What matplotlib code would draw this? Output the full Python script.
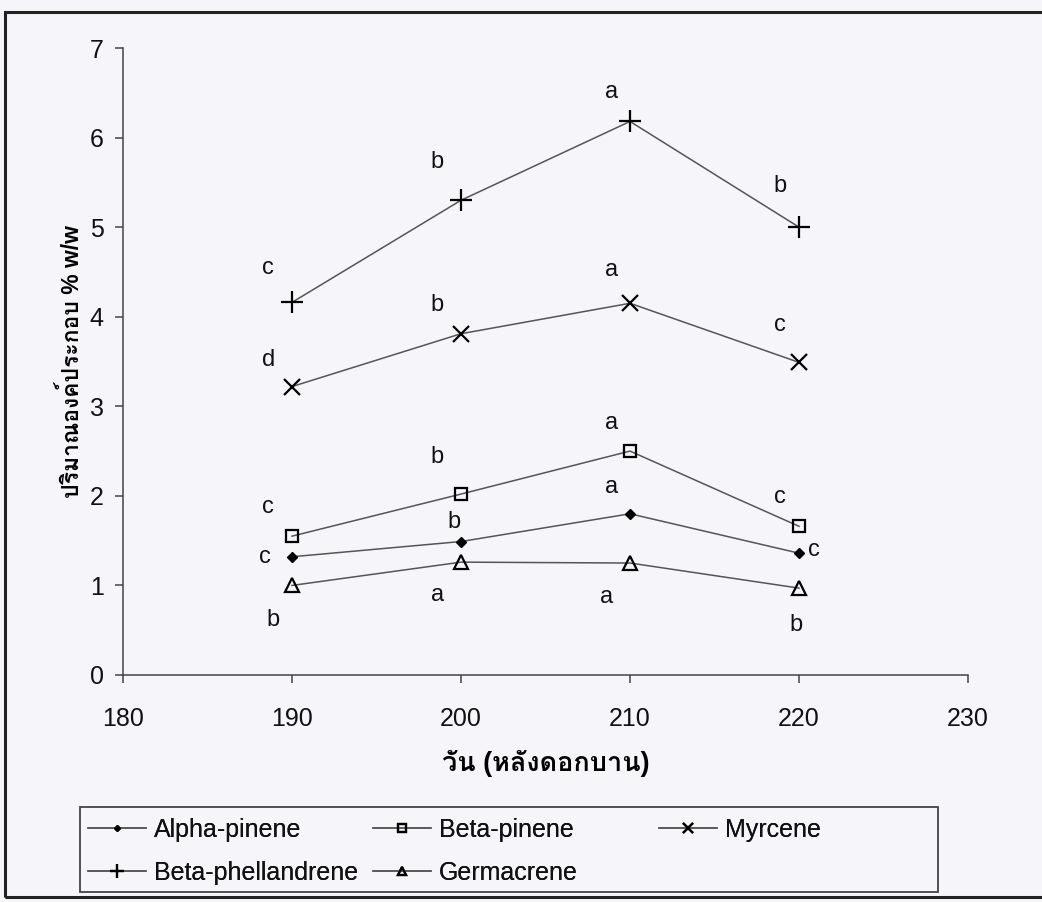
import matplotlib
matplotlib.use("Agg")
import matplotlib.pyplot as plt
from matplotlib import font_manager
from matplotlib.ft2font import FT2Font
from matplotlib.patches import Rectangle

# ---------------- data ----------------
days = [190, 200, 210, 220]
alpha_pinene = [1.32, 1.49, 1.80, 1.36]
beta_pinene = [1.55, 2.02, 2.50, 1.66]
myrcene = [3.22, 3.81, 4.15, 3.49]
beta_phellandrene = [4.16, 5.30, 6.18, 5.00]
germacrene = [1.00, 1.26, 1.25, 0.97]

letters_alpha = ["c", "b", "a", "c"]
letters_beta = ["c", "b", "a", "c"]
letters_myrcene = ["d", "b", "a", "c"]
letters_phell = ["c", "b", "a", "b"]
letters_germ = ["b", "a", "a", "b"]

series_names = ["Alpha-pinene", "Beta-pinene", "Myrcene", "Beta-phellandrene", "Germacrene"]
x_ticks = [180, 190, 200, 210, 220, 230]
y_ticks = [0, 1, 2, 3, 4, 5, 6, 7]
xlabel = "วัน (หลังดอกบาน)"
ylabel = "ปริมาณองค์ประกอบ % w/w"

# ---------------- fonts ----------------
base_font = "Liberation Sans"
thai_font = None
for fe in font_manager.fontManager.ttflist:
    try:
        cm = FT2Font(fe.fname).get_charmap()
        if 0x0E27 in cm and 0x0E2B in cm:
            thai_font = fe.name
            break
    except Exception:
        pass
label_family = [base_font] + ([thai_font] if thai_font else []) + ["DejaVu Sans"]
plt.rcParams["font.family"] = [base_font, "DejaVu Sans"]
plt.rcParams["text.color"] = "#111111"

bg = "#f6f5fa"
W, H = 1042, 902
fig = plt.figure(figsize=(W / 100, H / 100), dpi=100, facecolor=bg)
ax = fig.add_axes([123 / W, 1 - 675 / H, (968 - 123) / W, (675 - 48) / H])
ax.set_facecolor(bg)

line_color = "#555555"
styles = {
    "Alpha-pinene": dict(marker="D", ms=5, mfc="black", mec="black"),
    "Beta-pinene": dict(marker="s", ms=9, mfc="none", mec="black", mew=1.6),
    "Myrcene": dict(marker="x", ms=11, mec="black", mew=1.6),
    "Beta-phellandrene": dict(marker="+", ms=16, mec="black", mew=1.6),
    "Germacrene": dict(marker="^", ms=10, mfc="none", mec="black", mew=1.6),
}
data = {
    "Alpha-pinene": alpha_pinene,
    "Beta-pinene": beta_pinene,
    "Myrcene": myrcene,
    "Beta-phellandrene": beta_phellandrene,
    "Germacrene": germacrene,
}
handles = {}
for name in series_names:
    (h,) = ax.plot(days, data[name], color=line_color, lw=1.1, label=name, **styles[name])
    handles[name] = h

# significance letters (offsets in data units relative to each point)
fs = 17
def put(letters, vals, offsets):
    for d, v, l, (dx, dy) in zip(days, vals, letters, offsets):
        ax.text(d + dx, v + dy, l, fontsize=fs, ha="center", va="center", color="#111111")

put(letters_phell, beta_phellandrene, [(-1.4, 0.38), (-1.4, 0.43), (-1.1, 0.33), (-1.1, 0.46)])
put(letters_myrcene, myrcene, [(-1.4, 0.30), (-1.4, 0.32), (-1.1, 0.37), (-1.1, 0.42)])
put(letters_beta, beta_pinene, [(-1.4, 0.33), (-1.4, 0.41), (-1.1, 0.31), (-1.1, 0.33)])
put(letters_alpha, alpha_pinene, [(-1.6, 0.0), (-0.4, 0.22), (-1.1, 0.30), (0.9, 0.04)])
put(letters_germ, germacrene, [(-1.1, -0.39), (-1.4, -0.37), (-1.4, -0.38), (-0.2, -0.41)])

ax.set_xlim(180, 230)
ax.set_ylim(0, 7)
ax.set_xticks(x_ticks)
ax.set_yticks(y_ticks)
for s in ["top", "right"]:
    ax.spines[s].set_visible(False)
for s in ["left", "bottom"]:
    ax.spines[s].set_color("#444444")
    ax.spines[s].set_linewidth(1.1)
ax.tick_params(axis="both", direction="out", length=6, width=1.1, color="#444444",
               labelsize=18, labelcolor="#111111")
ax.tick_params(axis="y", pad=8)
ax.tick_params(axis="x", pad=17)

ax.set_xlabel(xlabel, fontsize=19.5, fontweight="bold", family=label_family, labelpad=14)
ax.set_ylabel(ylabel, fontsize=16.5, fontweight="bold", family=label_family, labelpad=4)

# legend: three columns placed individually, frame drawn separately
leg_fs = 18
columns = [
    (["Alpha-pinene", "Beta-phellandrene"], 88),
    (["Beta-pinene", "Germacrene"], 373),
    (["Myrcene"], 659),
]
for names, x0 in columns:
    lg = fig.legend([handles[n] for n in names], names, loc="upper left",
                    bbox_to_anchor=(x0 / W, 1 - 818 / H), fontsize=leg_fs, frameon=False,
                    handlelength=2.3, handletextpad=0.35, borderaxespad=0, borderpad=0,
                    labelspacing=0.75, markerscale=0.6)
    fig.add_artist(lg)

fig.patches.append(Rectangle((80 / W, 1 - 892 / H), (938 - 80) / W, (892 - 807) / H,
                             transform=fig.transFigure, fill=False, edgecolor="#444444", lw=1.3))
# outer frame
fig.patches.append(Rectangle((5 / W, 1 - 897 / H), 1.2, (897 - 12) / H, transform=fig.transFigure,
                             fill=False, edgecolor="#222222", lw=2.2))

fig.savefig("out.png", dpi=100, facecolor=bg)
